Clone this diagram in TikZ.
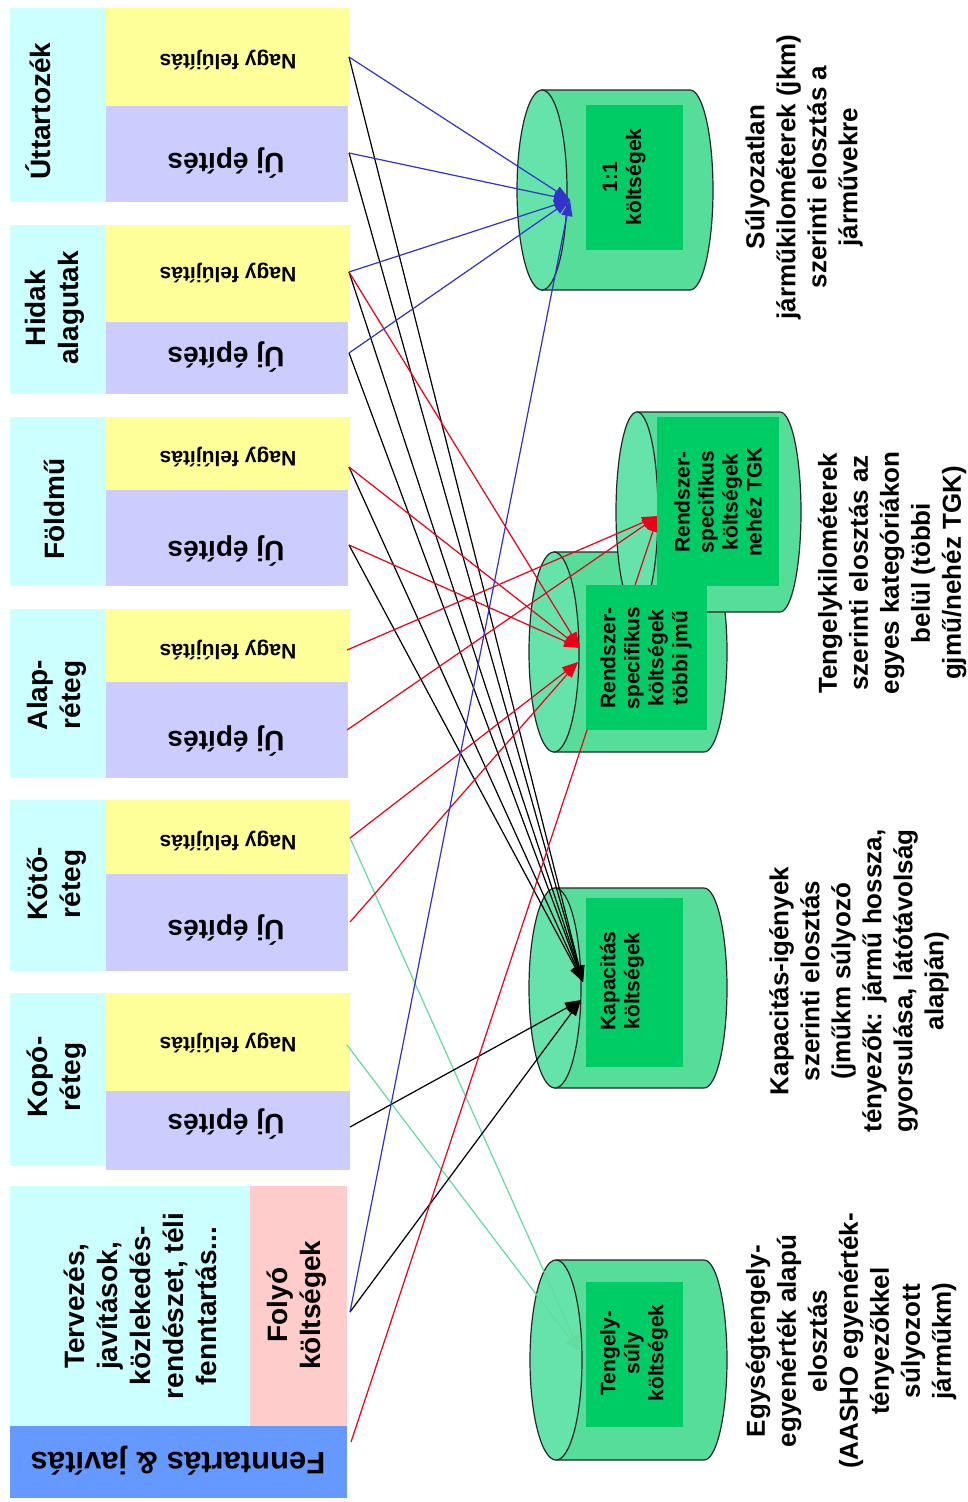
\documentclass[tikz,border=0pt]{standalone}
\usepackage{fontspec}
\setmainfont{Liberation Sans}
\usetikzlibrary{arrows.meta}
\definecolor{cyanbox}{RGB}{204,255,255}
\definecolor{yelbox}{RGB}{255,255,153}
\definecolor{lavbox}{RGB}{204,204,255}
\definecolor{pinkbox}{RGB}{255,204,204}
\definecolor{bluebox}{RGB}{102,153,255}
\definecolor{cylbody}{RGB}{85,221,153}
\definecolor{cylface}{RGB}{102,227,170}
\definecolor{cylin}{RGB}{0,204,102}
\definecolor{lnblue}{RGB}{51,51,204}
\definecolor{lnred}{RGB}{235,0,25}
\definecolor{lngreen}{RGB}{100,220,160}
\newcommand{\mycyl}[5]{%
  \filldraw[cylbodyst] (#1,#2-100) -- (#4,#2-100) arc[start angle=-90,end angle=90,x radius=#5,y radius=100] -- (#1,#2+100) -- cycle;
  \filldraw[cylfacest] (#1,#2) ellipse[x radius=#3,y radius=100];
}
\begin{document}
\begin{tikzpicture}[x=1pt,y=-1pt,
  cyanfill/.style={fill=cyanbox},
  yelfill/.style={fill=yelbox},
  lavfill/.style={fill=lavbox},
  cylbodyst/.style={fill=cylbody,draw=black!85,line width=1.2pt},
  cylfacest/.style={fill=cylface,draw=black!85,line width=1.2pt},
  cylinner/.style={fill=cylin},
  hd/.style={font=\bfseries\fontsize{28}{33}\selectfont,align=center,inner sep=0pt},
  nagy/.style={font=\bfseries\fontsize{21}{24}\selectfont,inner sep=0pt,rotate=180},
  uj/.style={font=\bfseries\fontsize{28}{33}\selectfont,inner sep=0pt,rotate=180},
  cyltext/.style={font=\bfseries\fontsize{21}{24}\selectfont,align=center,inner sep=0pt,rotate=90},
  lbl/.style={font=\bfseries\fontsize{26}{31}\selectfont,align=center,inner sep=0pt,rotate=90},
  conn/.style={line width=1.2pt,-{Triangle[length=16pt,width=11pt]}},
  cblue/.style={conn,draw=lnblue,fill=lnblue},
  cred/.style={conn,draw=lnred,fill=lnred},
  cblack/.style={conn,draw=black,fill=black},
  cgreen/.style={conn,draw=lngreen,fill=lngreen}]
\useasboundingbox (0,0) rectangle (968,1502);
\fill[white] (0,0) rectangle (968,1502);

% ---- left groups ----
\fill[cyanfill] (10,8) rectangle (106,202);
\fill[yelfill] (106,8) rectangle (350,106);
\fill[lavfill] (106,106) rectangle (348,202);
\fill[cyanfill] (10,225) rectangle (106,394);
\fill[yelfill] (106,225) rectangle (350,322);
\fill[lavfill] (106,322) rectangle (348,394);
\fill[cyanfill] (10,417) rectangle (106,586);
\fill[yelfill] (106,417) rectangle (350,490);
\fill[lavfill] (106,490) rectangle (348,586);
\fill[cyanfill] (10,609) rectangle (106,778);
\fill[yelfill] (106,609) rectangle (350,682);
\fill[lavfill] (106,682) rectangle (348,778);
\fill[cyanfill] (10,800) rectangle (106,971);
\fill[yelfill] (106,800) rectangle (350,874);
\fill[lavfill] (106,874) rectangle (348,971);
\fill[cyanfill] (10,993) rectangle (106,1166);
\fill[yelfill] (106,993) rectangle (350,1091);
\fill[lavfill] (106,1091) rectangle (350,1170);
\fill[cyanfill] (10,1186) rectangle (250,1426);
\fill[pinkbox] (250,1186) rectangle (347,1426);
\fill[bluebox] (10,1426) rectangle (347,1498);

\node[hd,rotate=90] (gut) at (38,111) {Úttartozék};
\node[hd,rotate=90] (ghid) at (55,308) {Hidak\\alagutak};
\node[hd,rotate=90] (gfold) at (54,509) {Földmű};
\node[hd,rotate=90] (galap) at (57,695) {Alap-\\réteg};
\node[hd,rotate=90] (gkoto) at (57,884) {Kötő-\\réteg};
\node[hd,rotate=90] (gkopo) at (57,1077) {Kopó-\\réteg};

\node[nagy] (n1) at (228,60) {Nagy felújítás};
\node[nagy] (n2) at (228,273) {Nagy felújítás};
\node[nagy] (n3) at (228,457) {Nagy felújítás};
\node[nagy] (n4) at (228,650) {Nagy felújítás};
\node[nagy] (n5) at (228,841) {Nagy felújítás};
\node[nagy] (n6) at (228,1043) {Nagy felújítás};
\node[uj] (u1) at (226,163) {Új építés};
\node[uj] (u2) at (226,357) {Új építés};
\node[uj] (u3) at (226,551) {Új építés};
\node[uj] (u4) at (226,741) {Új építés};
\node[uj] (u5) at (226,930) {Új építés};
\node[uj] (u6) at (226,1124) {Új építés};

\node[hd,rotate=90] (terv) at (140,1306) {Tervezés,\\javítások,\\közlekedés-\\rendészet, téli\\fenntartás...};
\node[hd,rotate=90] (folyo) at (297,1305) {Folyó\\költségek};
\node[font=\bfseries\fontsize{31}{36}\selectfont,inner sep=0pt,rotate=180] (fenn) at (178,1461) {Fenntartás \& javítás};

% ---- cylinders ----
\mycyl{554}{652}{25}{704}{23}
\mycyl{637}{512}{21}{780}{21}
\mycyl{542}{190}{25}{690}{23}
\mycyl{555}{988}{26}{704}{23}
\mycyl{556}{1360}{26}{704}{23}

% ---- connector endpoints ----
\coordinate (uN) at (349,57);
\coordinate (uU) at (349,153);
\coordinate (hN) at (349,272);
\coordinate (hU) at (349,353);
\coordinate (fN) at (349,467);
\coordinate (fU) at (349,545);
\coordinate (aN) at (347,650);
\coordinate (aU) at (347,730);
\coordinate (kN) at (350,838);
\coordinate (kU) at (350,922);
\coordinate (pN) at (347,1045);
\coordinate (pU) at (350,1127);
\coordinate (fo) at (350,1312);
\coordinate (fj) at (351,1442);
\coordinate (t1) at (570,200);
\coordinate (t2) at (658,516);
\coordinate (t3) at (580,648);
\coordinate (t3b) at (578,662);
\coordinate (t4a) at (583,982);
\coordinate (t4b) at (581,1000);
\coordinate (t5) at (580,1352);

% ---- connectors ----
\draw[cgreen] (kN) -- (t5);
\draw[cgreen] (pN) -- (t5);
\draw[cblack] (uN) -- (t4a);
\draw[cblack] (uU) -- (t4a);
\draw[cblack] (hN) -- (t4a);
\draw[cblack] (hU) -- (t4a);
\draw[cblack] (fN) -- (t4a);
\draw[cblack] (fU) -- (t4a);
\draw[cblack] (pU) -- (t4b);
\draw[cblack] (fo) -- (t4b);
\draw[cred] (hN) -- (t3);
\draw[cred] (fN) -- (t3);
\draw[cred] (fU) -- (t3);
\draw[cred] (kN) -- (t3b);
\draw[cred] (kU) -- (t3b);
\draw[cred] (aN) -- (t2);
\draw[cred] (aU) -- (t2);
\draw[cred] (fj) -- (t2);
\draw[cblue] (uN) -- (t1);
\draw[cblue] (uU) -- (t1);
\draw[cblue] (hN) -- (t1);
\draw[cblue] (hU) -- (t1);
\draw[cblue] (fo) -- (t1);

% ---- inner rectangles and texts ----
\fill[cylinner] (586,105) rectangle (683,250);
\fill[cylinner] (657,417) rectangle (779,586);
\fill[cylinner] (586,585) rectangle (707,730);
\fill[cylinner] (586,898) rectangle (683,1067);
\fill[cylinner] (586,1282) rectangle (683,1427);

\node[cyltext] (c1) at (624,177) {1:1\\költségek};
\node[cyltext] (c2) at (718,502) {Rendszer-\\specifikus\\költségek\\nehéz TGK};
\node[cyltext] (c3) at (646,658) {Rendszer-\\specifikus\\költségek\\többi jmű};
\node[cyltext] (c4) at (622,981) {Kapacitás\\költségek};
\node[cyltext] (c5) at (634,1353) {Tengely-\\súly\\költségek};

\node[lbl] (l1) at (804,177) {Súlyozatlan\\járműkilométerek (jkm)\\szerinti elosztás a\\járművekre};
\node[lbl] (l2) at (892,573) {Tengelykilométerek\\szerinti elosztás az\\egyes kategóriákon\\belül (többi\\gjmű/nehéz TGK)};
\node[lbl] (l3) at (859,981) {Kapacitás-igények\\szerinti elosztás\\(jműkm súlyozó\\tényezők: jármű hossza,\\gyorsulása, látótávolság\\alapján)};
\node[lbl] (l4) at (851,1341) {Egységtengely-\\egyenérték alapú\\elosztás\\(AASHO egyenérték-\\tényezőkkel\\súlyozott\\járműkm)};
\end{tikzpicture}
\end{document}
